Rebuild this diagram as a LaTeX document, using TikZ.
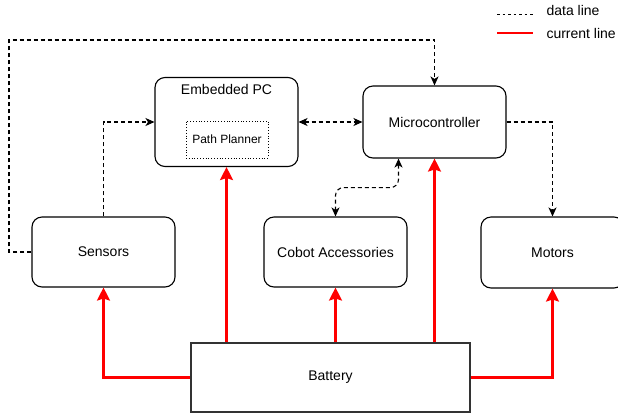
\documentclass[tikz,border=0pt]{standalone}
\usepackage{fontspec}
\setmainfont{Liberation Sans}
\usetikzlibrary{arrows.meta}

\begin{document}
\begin{tikzpicture}[x=1pt, y=-1pt,
    font=\fontsize{14}{16}\selectfont,
    unit/.style={draw, line width=1.1pt, rounded corners=10pt, inner sep=0pt},
    data/.style={draw, line width=1.1pt, dash pattern=on 4pt off 3pt,
        >={Stealth[length=9pt,width=8pt,inset=2.5pt]}},
    power/.style={draw=red, line width=2.2pt, -{Stealth[length=13pt,width=13pt,inset=2pt]}}]
    \useasboundingbox (0,0) rectangle (618,416);

    % Legende
    \coordinate (dl) at (497,14);
    \coordinate (cl) at (497,33);
    \draw[line width=1pt, dash pattern=on 2.5pt off 3pt] (dl) -- ++(36,0);
    \node[anchor=west] (dltext) at (543,10) {data line};
    \draw[red, line width=1.2pt] (cl) -- ++(36,0);
    \node[anchor=west] (cltext) at (543,33) {current line};

    % Rechner
    \node[unit, minimum width=143pt, minimum height=89pt] (epc) at (226.5,122) {};
    \node[anchor=north] (epctitle) at ([yshift=-4pt]epc.north) {Embedded PC};
    \node[draw, line width=0.8pt, dotted, minimum width=82pt, minimum height=37pt,
        font=\fontsize{12}{14}\selectfont] (plan) at (227,139.5) {Path Planner};
    \node[unit, minimum width=143pt, minimum height=72pt] (mcu) at (434.5,122) {Microcontroller};

    % Peripherie
    \node[unit, minimum width=143pt, minimum height=70pt] (sens) at (103.5,252) {Sensors};
    \node[unit, minimum width=143pt, minimum height=70pt] (cob) at (335.5,252) {Cobot Accessories};
    \node[unit, minimum width=143pt, minimum height=71pt] (mots) at (552.5,252.5) {Motors};

    % Versorgung
    \node[draw=black!80, line width=1.1pt, minimum width=279pt, minimum height=69pt] (bat) at (330.5,377.5) {Battery};

    % Datenleitungen
    \coordinate (loop) at (9,40);
    \draw[data, ->] (sens.north) |- (epc.west);
    \draw[data, ->] (sens.west) -| (loop) -| (mcu.north);
    \draw[data, <->] (epc.east) -- (mcu.west);
    \draw[data, ->] (mcu.east) -| (mots.north);
    \draw[data, <->, rounded corners=8pt] ([xshift=-36pt]mcu.south) -- ++(0,29) -| (cob.north);

    % Stromleitungen
    \draw[power] (bat.west) -| (sens.south);
    \draw[power] (bat.north -| epc.south) -- (epc.south);
    \draw[power] (bat.north -| cob.south) -- (cob.south);
    \draw[power] (bat.north -| mcu.south) -- (mcu.south);
    \draw[power] (bat.east) -| (mots.south);
\end{tikzpicture}
\end{document}
